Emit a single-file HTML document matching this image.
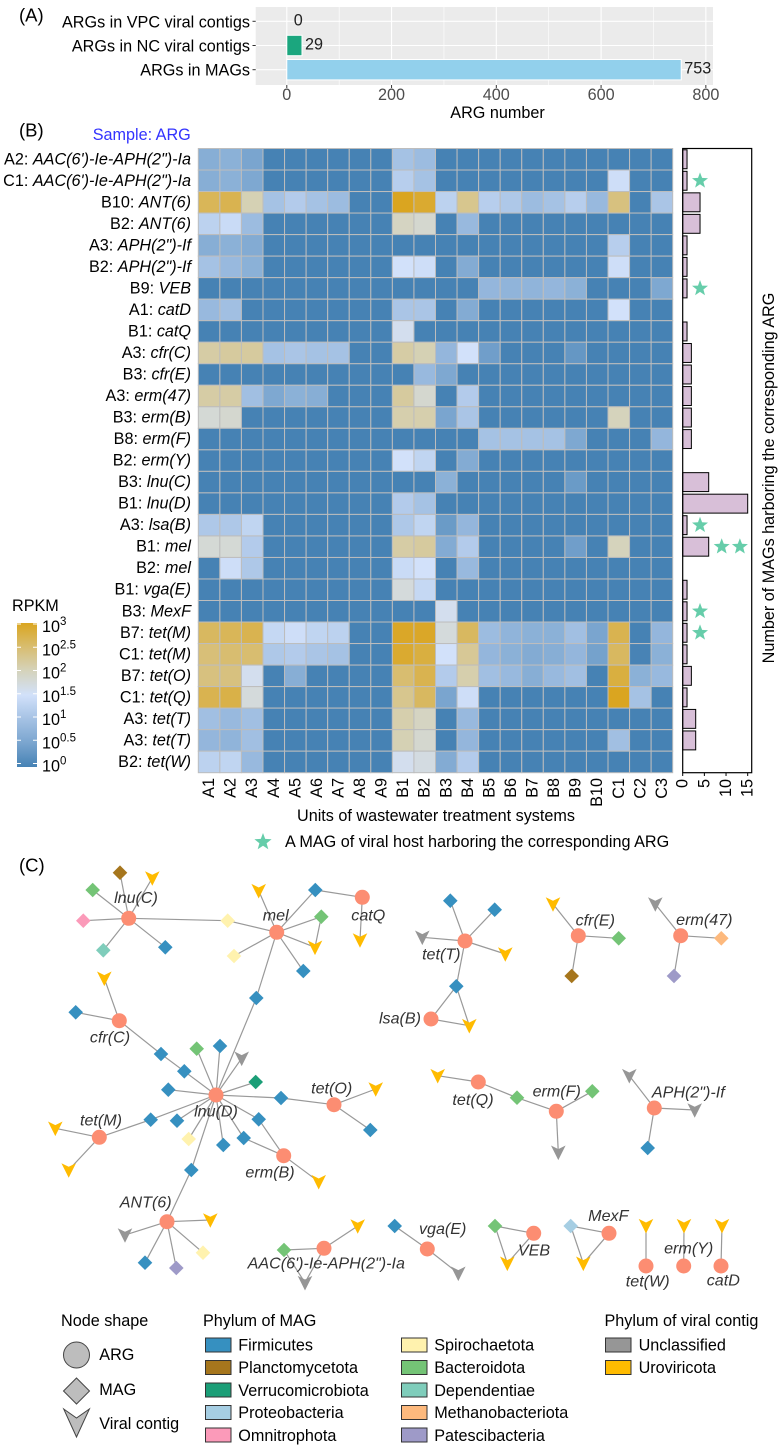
<!DOCTYPE html>
<html lang="en"><head><meta charset="utf-8"><title>ARG figure</title>
<style>
html,body{margin:0;padding:0;background:#fff}
svg{display:block;font-family:"Liberation Sans",Arial,sans-serif}
text{dominant-baseline:central}
.t{font-size:16.2px;fill:#000}
.net{font-size:16.1px;font-style:italic;fill:#333;text-anchor:middle}
.tick{font-size:16.2px;fill:#4d4d4d;text-anchor:middle}
.panel{font-size:18.5px;fill:#000}
</style></head><body>
<svg id="fig" xmlns="http://www.w3.org/2000/svg" width="781" height="1451" viewBox="0 0 781 1451">
<rect x="0" y="0" width="781" height="1451" fill="#fff"/>
<g id="panelA"></g>
<g id="heat"></g>
<g id="side"></g>
<g id="cbar"></g>
<g id="network"></g>

<text class="panel" x="19" y="15">(A)</text>
<text class="panel" x="19" y="130">(B)</text>
<text class="panel" x="19" y="865">(C)</text>
<text class="t" x="497.5" y="113" text-anchor="middle">ARG number</text>
<text class="t" x="92.7" y="135" style="fill:#3333ff">Sample: ARG</text>
<text class="t" x="436" y="816" text-anchor="middle">Units of wastewater treatment systems</text>
<text class="t" x="285" y="842">A MAG of viral host harboring the corresponding ARG</text>
<text class="t" x="769" y="478" text-anchor="middle" transform="rotate(-90 769 478)">Number of MAGs harboring the corresponding ARG</text>
<text class="t" x="12" y="606">RPKM</text>

<g>
<text class="net" x="136" y="898">lnu(C)</text>
<text class="net" x="275.7" y="915.7">mel</text>
<text class="net" x="368.3" y="915.7">catQ</text>
<text class="net" x="110" y="1037.7">cfr(C)</text>
<text class="net" x="331.7" y="1088.3">tet(O)</text>
<text class="net" x="216" y="1111.7">lnu(D)</text>
<text class="net" x="101" y="1120.3">tet(M)</text>
<text class="net" x="270" y="1172.7">erm(B)</text>
<text class="net" x="145.7" y="1202.3">ANT(6)</text>
<text class="net" x="326.3" y="1263.3">AAC(6')-Ie-APH(2")-Ia</text>
<text class="net" x="441.3" y="954.7">tet(T)</text>
<text class="net" x="400" y="1018.3">lsa(B)</text>
<text class="net" x="595.3" y="920.7">cfr(E)</text>
<text class="net" x="704.3" y="920">erm(47)</text>
<text class="net" x="473" y="1100">tet(Q)</text>
<text class="net" x="556.7" y="1091.7">erm(F)</text>
<text class="net" x="688.3" y="1092.3">APH(2")-If</text>
<text class="net" x="442.7" y="1229">vga(E)</text>
<text class="net" x="534" y="1250.7">VEB</text>
<text class="net" x="608.3" y="1216">MexF</text>
<text class="net" x="647.7" y="1281.7">tet(W)</text>
<text class="net" x="688.7" y="1248.3">erm(Y)</text>
<text class="net" x="723.3" y="1280.7">catD</text>
</g>

<g>
<text class="t" x="61" y="1321">Node shape</text>
<ellipse cx="76.5" cy="1355" rx="13" ry="13" fill="#bdbdbd" stroke="#444" stroke-width="1"/>
<polygon points="76.5,1378 89.5,1391 76.5,1404 63.5,1391" fill="#bdbdbd" stroke="#444" stroke-width="1"/>
<polygon points="63.7,1409 76.5,1418 89.4,1409 76.5,1437" fill="#bdbdbd" stroke="#444" stroke-width="1"/>
<text class="t" x="99.3" y="1355">ARG</text>
<text class="t" x="99.3" y="1390">MAG</text>
<text class="t" x="99.3" y="1424">Viral contig</text>

<text class="t" x="203" y="1321">Phylum of MAG</text>
<rect x="205.5" y="1338" width="25.5" height="14" fill="#3690c0" stroke="#333"/>
<text class="t" x="238.3" y="1345.5">Firmicutes</text>
<rect x="205.5" y="1360.5" width="25.5" height="14" fill="#a6761d" stroke="#333"/>
<text class="t" x="238.3" y="1368">Planctomycetota</text>
<rect x="205.5" y="1383" width="25.5" height="14" fill="#1b9e77" stroke="#333"/>
<text class="t" x="238.3" y="1391">Verrucomicrobiota</text>
<rect x="205.5" y="1405.5" width="25.5" height="14" fill="#a6cee3" stroke="#333"/>
<text class="t" x="238.3" y="1413">Proteobacteria</text>
<rect x="205.5" y="1428" width="25.5" height="14" fill="#fb9ab9" stroke="#333"/>
<text class="t" x="238.3" y="1436">Omnitrophota</text>

<rect x="401.5" y="1338" width="25.5" height="14" fill="#fff2ae" stroke="#333"/>
<text class="t" x="434.2" y="1345.5">Spirochaetota</text>
<rect x="401.5" y="1360.5" width="25.5" height="14" fill="#74c476" stroke="#333"/>
<text class="t" x="434.2" y="1368">Bacteroidota</text>
<rect x="401.5" y="1383" width="25.5" height="14" fill="#7fcdbb" stroke="#333"/>
<text class="t" x="434.2" y="1391">Dependentiae</text>
<rect x="401.5" y="1405.5" width="25.5" height="14" fill="#fdb97d" stroke="#333"/>
<text class="t" x="434.2" y="1413">Methanobacteriota</text>
<rect x="401.5" y="1428" width="25.5" height="14" fill="#9e9ac8" stroke="#333"/>
<text class="t" x="434.2" y="1436">Patescibacteria</text>

<text class="t" x="604.5" y="1321">Phylum of viral contig</text>
<rect x="605.5" y="1338" width="25.5" height="14" fill="#969696" stroke="#333"/>
<text class="t" x="638.6" y="1345.5">Unclassified</text>
<rect x="605.5" y="1360.5" width="25.5" height="14" fill="#ffbb00" stroke="#333"/>
<text class="t" x="638.6" y="1368">Uroviricota</text>
</g>
</svg>
<script>
// ---- Panel A data
const argSourceCategories = ["ARGs in VPC viral contigs","ARGs in NC viral contigs","ARGs in MAGs"];
const argSourceValues = [0,29,753];
const argSourceColors = ["#1ba67e","#1ba67e","#92d0ec"];
const argAxisTicks = [0,200,400,600,800];
const argAxisMinor = [100,300,500,700];

// ---- Panel B data
const columnLabels = ["A1","A2","A3","A4","A5","A6","A7","A8","A9","B1","B2","B3","B4","B5","B6","B7","B8","B9","B10","C1","C2","C3"];
const rowSamples = ["A2","C1","B10","B2","A3","B2","B9","A1","B1","A3","B3","A3","B3","B8","B2","B3","B1","A3","B1","B2","B1","B3","B7","C1","B7","C1","A3","A3","B2"];
const rowGenes = ["AAC(6')-Ie-APH(2\")-Ia","AAC(6')-Ie-APH(2\")-Ia","ANT(6)","ANT(6)","APH(2\")-If","APH(2\")-If","VEB","catD","catQ","cfr(C)","cfr(E)","erm(47)","erm(B)","erm(F)","erm(Y)","lnu(C)","lnu(D)","lsa(B)","mel","mel","vga(E)","MexF","tet(M)","tet(M)","tet(O)","tet(Q)","tet(T)","tet(T)","tet(W)"];
// log10 RPKM per row (columns A1..A9, B1..B10, C1..C3)
const logRpkm = [
[.65,.7,.5,0,0,0,0,0,0,1,.9,0,0,0,0,0,0,0,0,0,0,0],
[.65,.7,.55,0,0,0,0,0,0,1.2,1,0,0,0,0,0,0,0,0,1.45,0,0],
[2.65,2.7,2.05,1,1.15,1,.9,0,0,3,2.9,1.25,2.3,1.2,1.1,.9,1,1.2,.85,2.4,0,1.05],
[1.25,1.4,.9,0,0,0,0,0,0,1.95,1.85,0,.85,0,0,0,0,0,0,0,0,0],
[.65,.7,.6,0,0,0,0,0,0,0,0,0,0,0,0,0,0,0,0,1.2,0,0],
[1,.85,.7,0,0,0,0,0,0,1.5,1.45,0,.6,0,0,0,0,0,0,1.45,0,0],
[0,0,0,0,0,0,0,0,0,0,0,0,0,.8,.75,.75,.8,.7,0,0,0,.55],
[.85,.95,0,0,0,0,0,0,0,1.05,1.05,0,.6,0,0,0,0,0,0,1.5,0,0],
[0,0,0,0,0,0,0,0,0,1.6,0,0,0,0,0,0,0,0,0,0,0,0],
[2.15,2.2,2.2,1,1.05,1,1,0,0,2.15,2.05,.8,1.5,.4,0,0,0,.3,0,0,0,0],
[0,0,0,0,0,0,0,0,0,0,.85,.55,0,0,0,0,0,0,0,0,0,0],
[2.15,2.15,.95,.55,.7,.65,0,0,0,2.2,1.85,0,1.15,0,0,0,0,0,0,0,0,0],
[1.8,1.85,0,0,0,0,0,0,0,2.1,2.1,.5,1.05,0,0,0,0,0,0,2,0,0],
[0,0,0,0,0,0,0,0,0,0,0,0,0,1,1,1,1,.55,0,0,0,.8],
[0,0,0,0,0,0,0,0,0,1.5,1.3,0,.6,0,0,0,0,0,0,0,0,0],
[0,0,0,0,0,0,0,0,0,0,0,.7,0,0,0,0,0,.35,0,0,0,0],
[0,0,0,0,0,0,0,0,0,1.15,1,0,0,0,0,0,0,0,0,0,0,0],
[1.1,1.1,1.3,0,0,0,0,0,0,1.1,1.3,.35,.8,0,0,0,0,0,0,0,0,0],
[1.8,1.8,1.15,0,0,0,0,0,0,2.15,2.2,.6,1.15,0,0,0,0,.4,0,2,0,0],
[0,1.45,1.1,0,0,0,0,0,0,1.4,1.5,0,.85,0,0,0,0,0,0,0,0,0],
[0,0,0,0,0,0,0,0,0,1.75,1.35,0,0,0,0,0,0,0,0,0,0,0],
[0,0,0,0,0,0,0,0,0,0,0,1.6,0,0,0,0,0,0,0,0,0,0],
[2.6,2.65,2.7,1.35,1.45,1.3,1.25,0,0,2.95,2.95,1.75,2.6,.9,.75,.7,.7,.95,.5,2.7,0,.8],
[2.45,2.5,2.5,1.1,1.15,1.05,1,0,0,2.9,2.8,1.5,2.25,.8,.7,.6,.65,.8,.45,2.6,.02,.7],
[2.4,2.4,1.6,0,.65,0,0,0,0,2.5,2.7,1.15,2.1,.95,.85,.65,.85,.95,0,2.8,.7,.85],
[2.7,2.75,1.75,0,0,0,0,0,0,2.3,2.6,.5,1.45,0,0,0,0,0,0,3,1,0],
[.95,.85,.95,0,0,0,0,0,0,2.1,1.95,0,.85,0,0,0,0,0,0,0,0,0],
[.8,.75,.95,0,0,0,0,0,0,2.05,1.85,0,.8,0,0,0,0,0,0,.95,0,0],
[1.25,1.3,.85,0,0,0,0,0,0,1.6,1.7,.6,1.15,0,0,0,0,0,0,0,0,0]
];
const magCounts = [1,1,4,4,1,1,1,0,1,2,2,2,2,2,0,6,15,1,6,0,1,1,1,1,2,1,3,3,0];
const sideTicks = [0,5,10,15];
const starRows = [1,6,17,18,18,21,22];
const starValues = [4,4,4,9,13.2,4,4];
const colorbarTicks = [0,0.5,1,1.5,2,2.5,3];
const colorbarExponents = ["0","0.5","1","1.5","2","2.5","3"];

// ---- Panel C layout
const phylumColor = {F:"#3690c0",Pl:"#a6761d",Ve:"#1b9e77",Pr:"#a6cee3",O:"#fb9ab9",S:"#fff2ae",B:"#74c476",D:"#7fcdbb",M:"#fdb97d",Pa:"#9e9ac8"};
const argNodes = [["lnuC",128.7,918.3],["mel",276.7,932.3],["catQ",362.3,897.3],["cfrC",119.3,1020.7],["lnuD",216,1095],["tetO",334,1104.7],["tetM",99.3,1137.3],["ermB",283.7,1155.7],["ANT6",167,1221.7],["AAC",324,1248.3],["tetT",465,941],["lsaB",431,1019],["cfrE",578.3,935.7],["erm47",680.7,935.7],["tetQ",478.3,1082],["ermF",556.3,1111.3],["APH",654.3,1108],["vgaE",427.3,1249],["VEB",533.7,1233.3],["MexF",609,1233.3],["tetW",646,1266],["ermY",683.7,1266],["catD",721,1266]];
const magNodes = [["m1","Pl",120,872.7],["m2","B",92.7,890],["m3","O",83.3,920.7],["m4","D",103.3,950.3],["m5","F",165.3,947.3],["m6","S",227.7,920.7],["m7","F",315.3,890],["m8","B",321.3,916.7],["m9","S",234,956],["m10","F",303.3,971],["m11","F",256.3,998],["m12","F",75.7,1012.3],["m13","F",161,1054],["m14","F",184.3,1071.3],["m15","B",196.7,1048.7],["m16","F",220,1046],["m17","Ve",255.7,1082],["m18","F",168.3,1089.7],["m19","F",281,1098],["m20","F",370.3,1130],["m21","F",150.7,1119.7],["m22","F",177,1120.7],["m23","S",188.7,1139],["m24","F",223.3,1145],["m25","F",243.7,1138],["m26","F",258.7,1119.3],["m27","F",191.3,1170],["m28","F",145,1262.7],["m29","Pa",176.3,1268],["m30","S",203,1252.7],["m31","B",284,1250],["m32","F",450.3,900.7],["m33","F",494.7,909.7],["m34","F",456.3,986.3],["m35","B",618.7,938.3],["m36","Pl",571.7,976],["m37","M",721.3,938.3],["m38","Pa",674,976],["m39","B",517,1097.7],["m40","B",592.3,1091.3],["m41","F",647.7,1148],["m42","F",394.7,1226],["m43","B",495,1226],["m44","Pr",570.7,1226]];
const viralNodes = [["v1","U",152.3,878],["v2","U",258.7,890.7],["v3","U",315,947.3],["v4","U",360,940],["v5","U",104.3,978.3],["v6","G",241.7,1058.3],["v7","U",375.7,1089],["v8","U",55.3,1128.3],["v9","U",68.7,1170],["v10","U",318.7,1181.7],["v11","U",210.3,1220],["v12","G",125,1235],["v13","U",357.7,1226],["v14","G",305,1282.7],["v15","G",422.3,937.3],["v16","U",505.3,954],["v17","U",469.3,1025.7],["v18","U",553,904],["v19","G",655.3,904],["v20","U",437.7,1075.7],["v21","G",558.3,1152.3],["v22","G",629.3,1075.7],["v23","G",694.7,1110],["v24","G",458.3,1273.3],["v25","U",507.3,1263.3],["v26","U",583.3,1263.3],["v27","U",646,1225.7],["v28","U",684,1225.7],["v29","U",722,1225.7]];
const edges = "lnuC-m1 lnuC-m2 lnuC-v1 lnuC-m3 lnuC-m4 lnuC-m5 lnuC-m6 mel-m6 mel-v2 mel-m7 mel-m8 mel-v3 mel-m9 mel-m10 mel-m11 m8-v3 m7-catQ catQ-v4 m11-lnuD cfrC-v5 cfrC-m12 cfrC-m13 m13-m14 m14-lnuD lnuD-m15 lnuD-m16 lnuD-v6 lnuD-m17 lnuD-m18 lnuD-m19 lnuD-m21 lnuD-m22 lnuD-m23 lnuD-m24 lnuD-m25 lnuD-m26 lnuD-m27 m19-tetO tetO-v7 tetO-m20 m21-tetM tetM-v8 tetM-v9 m25-ermB m26-ermB ermB-v10 m27-ANT6 ANT6-v11 ANT6-v12 ANT6-m28 ANT6-m29 ANT6-m30 AAC-m31 AAC-v13 AAC-v14 m31-v14 tetT-m32 tetT-m33 tetT-v15 tetT-v16 tetT-m34 m34-lsaB m34-v17 lsaB-v17 cfrE-v18 cfrE-m35 cfrE-m36 erm47-v19 erm47-m37 erm47-m38 tetQ-v20 tetQ-m39 m39-ermF ermF-m40 ermF-v21 APH-v22 APH-v23 APH-m41 vgaE-m42 vgaE-v24 VEB-m43 VEB-v25 m43-v25 MexF-m44 MexF-v26 m44-v26 tetW-v27 ermY-v28 catD-v29".split(" ");

const NS = "http://www.w3.org/2000/svg";
function make(tag, parent, attrs){
  const e = document.createElementNS(NS, tag);
  for(const k in attrs){ e.setAttribute(k, attrs[k]); }
  parent.appendChild(e);
  return e;
}
// ---- Panel A
const pa = document.getElementById("panelA");
const ax = v => 286.8 + v*0.5238;
const ay = i => 21.3 + i*24.2;
const paBg = make("rect", pa, {x:255.7,y:7,width:457.3,height:78,fill:"#ebebeb"});


argAxisMinor.forEach(v=>{
  const g = make("line", pa, {x1:ax(v),x2:ax(v),y1:7,y2:85,stroke:"#fff","stroke-width":0.6});
  
  
});
argAxisTicks.forEach(v=>{
  const g = make("line", pa, {x1:ax(v),x2:ax(v),y1:7,y2:85,stroke:"#fff","stroke-width":1.1});
  
  
  const t = make("line", pa, {x1:ax(v),x2:ax(v),y1:85,y2:88,stroke:"#333","stroke-width":1});
  
  
  const l = make("text", pa, {x:ax(v),y:95,class:"tick"});
  l.textContent = v;
  
  
});
argSourceCategories.forEach((c,i)=>{
  const g = make("line", pa, {x1:255.7,x2:713,y1:ay(i),y2:ay(i),stroke:"#fff","stroke-width":1.1});
  
  
  const t = make("line", pa, {x1:252.5,x2:255.7,y1:ay(i),y2:ay(i),stroke:"#333","stroke-width":1});
  
  
  const l = make("text", pa, {x:250,y:ay(i)+1,class:"t","text-anchor":"end"});
  l.textContent = c;
  
  
  const val = argSourceValues[i];
  if(val>0){
    const b = make("rect", pa, {x:ax(0),y:ay(i)-10.2,width:ax(val)-ax(0),height:20.4,fill:argSourceColors[i],stroke:"#fff","stroke-width":1});
    
    
  }
  const vl = make("text", pa, {x:ax(val)+(val==0?7:3),y:ay(i)-1,class:"t",style:"fill:#222"});
  vl.textContent = val;
  
  
});
// ---- Colour scale
const scaleStops = [[0,[70,130,180]],[0.5,[122,165,207]],[1,[165,194,228]],[1.5,[210,225,250]],[2,[213,211,188]],[2.5,[216,189,112]],[3,[218,165,32]]];
function colorFor(v){
  for(let i=1;i<scaleStops.length;i++){
    if(v<=scaleStops[i][0]){
      const a=scaleStops[i-1],b=scaleStops[i],f=(v-a[0])/(b[0]-a[0]);
      return "rgb("+a[1].map((c,j)=>Math.round(c+(b[1][j]-c)*f)).join(",")+")";
    }
  }
  return "rgb(218,165,32)";
}
// ---- Heatmap
const heat = document.getElementById("heat");
const hx0=198.3, hw=474.4/columnLabels.length, hy0=148.5, hh=624.2/rowGenes.length;
const hx = c => hx0 + c*hw;
const hy = r => hy0 + r*hh;
logRpkm.forEach((row,r)=>{
  row.forEach((v,c)=>{
    const cell = make("rect", heat, {x:hx(c),y:hy(r),width:hw,height:hh,fill:colorFor(v),stroke:"#bdbdbd","stroke-width":1});
    
    
  });
  const l = make("text", heat, {x:191,y:hy(r)+hh/2,class:"t","text-anchor":"end"});
  
  
  const s = make("tspan", l, {});
  s.textContent = rowSamples[r]+": ";
  const g = make("tspan", l, {"font-style":"italic"});
  g.textContent = rowGenes[r];
});
columnLabels.forEach((c,i)=>{
  const x=hx(i)+hw/2;
  const l = make("text", heat, {x:x,y:778,class:"t","text-anchor":"end",transform:"rotate(-90 "+x+" 778)"});
  l.textContent = c;
  
  
});
// ---- Side bars
const side = document.getElementById("side");
const sx = v => 682.7 + v*4.333;
magCounts.forEach((v,r)=>{
  if(v>0){
    const b = make("rect", side, {x:sx(0),y:hy(r)+1.3,width:sx(v)-sx(0),height:hh-2.6,fill:"#d8bfd8",stroke:"#000","stroke-width":1});
    
    
  }
});
const frame = make("rect", side, {x:682.7,y:148.5,width:69,height:624.2,fill:"none",stroke:"#000","stroke-width":1.2});


sideTicks.forEach(v=>{
  const t = make("line", side, {x1:sx(v),x2:sx(v),y1:772.7,y2:776,stroke:"#000","stroke-width":1});
  
  
  const l = make("text", side, {x:sx(v),y:779,class:"t","text-anchor":"end",transform:"rotate(-90 "+sx(v)+" 779)"});
  l.textContent = v;
  
  
});
function starPoints(cx,cy,R){
  const pts=[];
  for(let i=0;i<10;i++){
    const r=i%2?R*0.42:R, a=-Math.PI/2+i*Math.PI/5;
    pts.push((cx+r*Math.cos(a)).toFixed(1)+","+(cy+r*Math.sin(a)).toFixed(1));
  }
  return pts.join(" ");
}
starRows.forEach((r,i)=>{
  const s = make("polygon", side, {points:starPoints(sx(starValues[i]),hy(r)+hh/2,8.4),fill:"#66cdaa"});
  
  
});
const legendStar = make("polygon", side, {points:starPoints(263,842,9),fill:"#66cdaa"});


// ---- Colorbar
const cbar = document.getElementById("cbar");
const svg = document.getElementById("fig");
const defs = make("defs", svg, {});
const grad = make("linearGradient", defs, {id:"rpkmGrad",x1:0,y1:1,x2:0,y2:0});
scaleStops.forEach(s=>{ make("stop", grad, {offset:(s[0]/3),"stop-color":"rgb("+s[1].join(",")+")"}); });
const cy = v => 763.5 - v*46.5;
const cb = make("rect", cbar, {x:17,y:623,width:20,height:144,fill:"url(#rpkmGrad)"});


colorbarTicks.forEach((v,i)=>{
  const a = make("line", cbar, {x1:17,x2:21,y1:cy(v),y2:cy(v),stroke:"#fff","stroke-width":1});
  
  
  const b = make("line", cbar, {x1:33,x2:37,y1:cy(v),y2:cy(v),stroke:"#fff","stroke-width":1});
  
  
  const l = make("text", cbar, {x:42,y:cy(v)+3,class:"t"});
  
  
  const base = make("tspan", l, {});
  base.textContent = "10";
  const sup = make("tspan", l, {dy:-5,"font-size":"11.5px"});
  sup.textContent = colorbarExponents[i];
});
// ---- Network
const net = document.getElementById("network");
const pos = {};
argNodes.forEach(n=>{pos[n[0]]=[n[1],n[2]];});
magNodes.forEach(n=>{pos[n[0]]=[n[2],n[3]];});
viralNodes.forEach(n=>{pos[n[0]]=[n[2],n[3]];});
edges.forEach(ed=>{
  const p=ed.split("-"),a=pos[p[0]],b=pos[p[1]];
  const e = make("line", net, {x1:a[0],y1:a[1],x2:b[0],y2:b[1],stroke:"#999","stroke-width":1.2});
  
  
});
magNodes.forEach(n=>{
  const x=n[2],y=n[3],d=7.3;
  const m = make("polygon", net, {points:x+","+(y-d)+" "+(x+d)+","+y+" "+x+","+(y+d)+" "+(x-d)+","+y,fill:phylumColor[n[1]]});
  
  
});
viralNodes.forEach(n=>{
  const x=n[2],y=n[3];
  const pts=[[x-7.3,y-6.8],[x,y-3.2],[x+7.3,y-6.8],[x,y+7.8]].map(p=>p[0]+","+p[1]).join(" ");
  const v = make("polygon", net, {points:pts,fill:n[1]=="G"?"#969696":"#ffbb00"});
  
  
});
argNodes.forEach(n=>{
  const c = make("circle", net, {cx:n[1],cy:n[2],r:7.5,fill:"#fc8d72"});
  
  
});
</script>
</body></html>
